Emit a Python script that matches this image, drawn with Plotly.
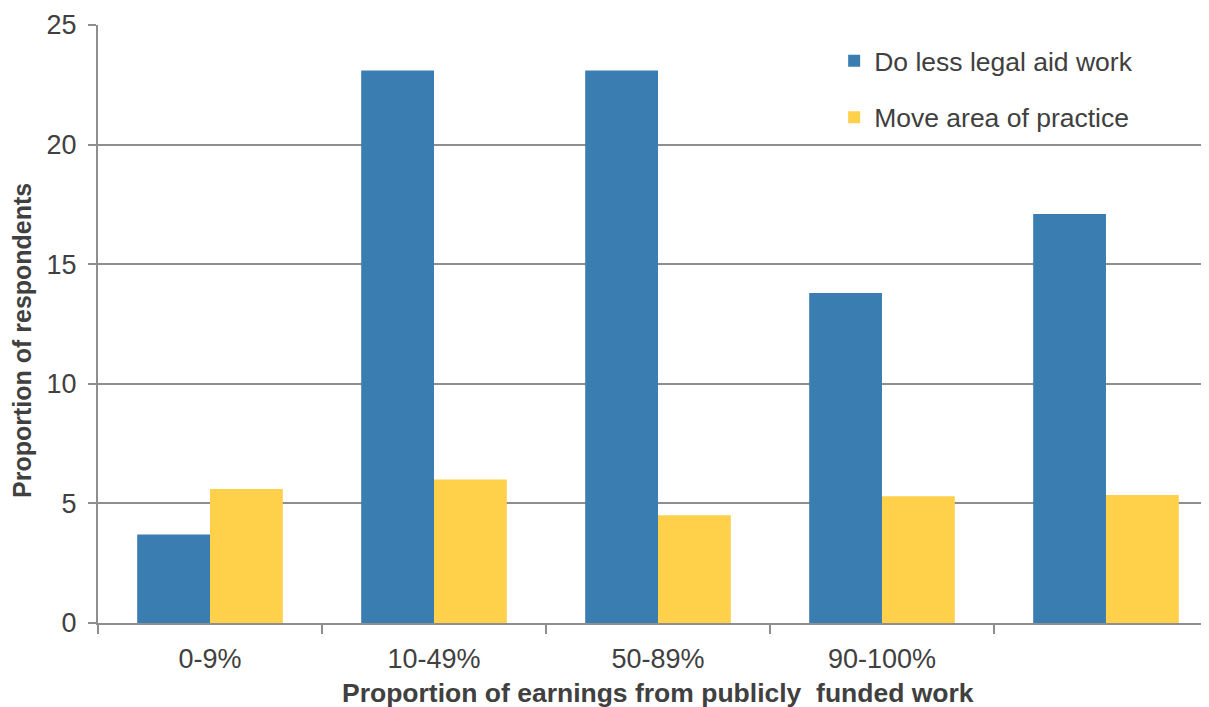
import plotly.graph_objects as go

categories = ["0-9%", "10-49%", "50-89%", "90-100%", "All"]
tick_labels = ["0-9%", "10-49%", "50-89%", "90-100%", ""]
do_less_legal_aid = [3.7, 23.1, 23.1, 13.8, 17.1]
move_area = [5.6, 6.0, 4.5, 5.3, 5.35]
series_names = ["Do less legal aid work", "Move area of practice"]
y_ticks = [0, 5, 10, 15, 20, 25]

BLUE = "#3A7EB1"
YELLOW = "#FFD04A"
GRID = "#8E8E8E"
TXT = "#404040"
FONT = "Liberation Sans, Arial, sans-serif"

fig = go.Figure()
fig.add_trace(go.Bar(x=categories, y=do_less_legal_aid, name=series_names[0],
                     marker=dict(color=BLUE, line=dict(width=0)), legendgroup="a"))
fig.add_trace(go.Bar(x=categories, y=move_area, name=series_names[1],
                     marker=dict(color=YELLOW, line=dict(width=0)), legendgroup="b"))

fig.update_layout(
    width=1201, height=699,
    margin=dict(l=90, r=4, t=17, b=84, autoexpand=False),
    paper_bgcolor="white", plot_bgcolor="white",
    barmode="group", bargap=0.35, bargroupgap=0,
    font=dict(family=FONT, color=TXT, size=24),
    showlegend=True,
    legend=dict(x=0.665, y=0.98, xanchor="left", yanchor="top",
                font=dict(size=26.5, color=TXT, family=FONT),
                tracegroupgap=19, traceorder="grouped",
                bgcolor="rgba(0,0,0,0)", itemwidth=30),
    xaxis=dict(type="category", range=[-0.5, 4.442], automargin=False,
               tickvals=categories, ticktext=tick_labels,
               tickson="boundaries", ticks="outside", ticklen=9,
               tickcolor=GRID, tickwidth=2,
               showline=True, linecolor=GRID, linewidth=2,
               showgrid=False, tickfont=dict(size=27, color=TXT),
               ticklabelstandoff=11),
    yaxis=dict(range=[0, 25], tickvals=y_ticks, ticks="outside", ticklen=8,
               automargin=False,
               tickcolor=GRID, tickwidth=2,
               showline=True, linecolor=GRID, linewidth=2,
               showgrid=True, gridcolor=GRID, gridwidth=2,
               zeroline=False, tickfont=dict(size=27, color=TXT),
               ticklabelstandoff=6),
    annotations=[
        dict(text="<b>Proportion of earnings from publicly  funded work</b>",
             xref="x", yref="paper", x=2, y=0, yshift=-70,
             showarrow=False, font=dict(size=26.5, color=TXT, family=FONT),
             xanchor="center", yanchor="middle"),
        dict(text="<b>Proportion of respondents</b>", textangle=-90,
             xref="paper", yref="paper", x=0, xshift=-76, y=0.5, yshift=-17,
             showarrow=False, font=dict(size=25, color=TXT, family=FONT),
             xanchor="center", yanchor="middle"),
    ],
)

fig.write_html("out.html")
